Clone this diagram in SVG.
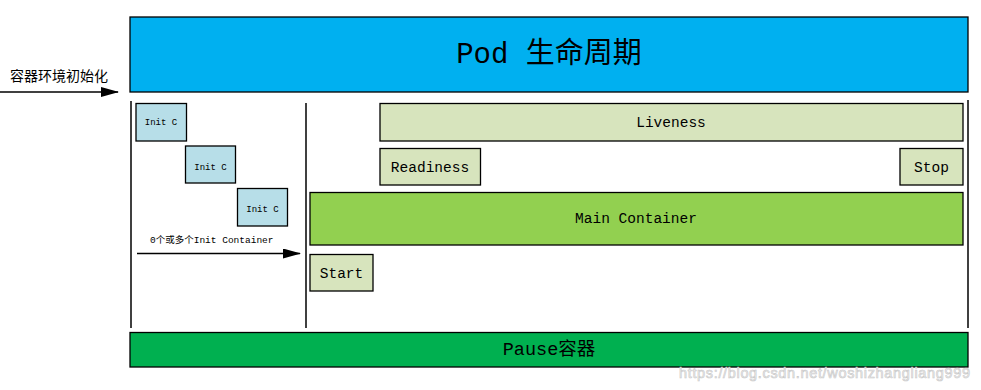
<svg xmlns="http://www.w3.org/2000/svg" width="981" height="390" viewBox="0 0 981 390">
<style>
.box{stroke:#000;stroke-width:1.3}
.init{fill:#B7DEE8}
.lg{fill:#D7E4BD}
.mono{font-family:"Liberation Mono","Noto Sans CJK SC",monospace;fill:#000}
.cjk{font-family:"Noto Sans CJK SC","Noto Sans",sans-serif;fill:#000}
.line{stroke:#000;stroke-width:1.5;fill:none}
</style>
<defs>
<marker id="ah" markerWidth="18" markerHeight="10" refX="17" refY="5" orient="auto" markerUnits="userSpaceOnUse">
<path d="M0,0 L18,5 L0,10 Z" fill="#000"/>
</marker>
</defs>
<rect width="981" height="390" fill="#fff"/>

<g id="pod">
<rect class="box" x="130" y="17" width="838" height="75" fill="#00B0F0"/>
<text class="mono" x="549" y="63" font-size="29" text-anchor="middle">Pod 生命周期</text>
</g>

<g id="connectors">
<line class="line" x1="0" y1="92" x2="118" y2="92" marker-end="url(#ah)"/>
<line class="line" x1="137" y1="253.5" x2="300" y2="253.5" marker-end="url(#ah)"/>
<line class="line" x1="131" y1="101" x2="131" y2="328"/>
<line class="line" x1="306" y1="103" x2="306" y2="328"/>
<line class="line" x1="968" y1="100" x2="968" y2="328"/>
</g>

<g id="init-label">
<text class="cjk" x="10" y="81" font-size="14">容器环境初始化</text>
</g>

<g id="init1">
<rect class="box init" x="136" y="103.5" width="50.5" height="37.5"/>
<text class="mono" x="161" y="125" font-size="9" text-anchor="middle">Init C</text>
</g>
<g id="init2">
<rect class="box init" x="185.5" y="146" width="50" height="37"/>
<text class="mono" x="210.5" y="170" font-size="9" text-anchor="middle">Init C</text>
</g>
<g id="init3">
<rect class="box init" x="237.5" y="188.5" width="50" height="37.5"/>
<text class="mono" x="262.5" y="212" font-size="9" text-anchor="middle">Init C</text>
</g>
<g id="init-count">
<text class="mono" x="150" y="243" font-size="9.5">0个或多个Init Container</text>
</g>

<g id="liveness">
<rect class="box lg" x="380" y="103.5" width="583" height="37.5"/>
<text class="mono" x="671" y="127" font-size="14.5" text-anchor="middle">Liveness</text>
</g>
<g id="readiness">
<rect class="box lg" x="380" y="148.5" width="100.5" height="36.5"/>
<text class="mono" x="430" y="172" font-size="14.5" text-anchor="middle">Readiness</text>
</g>
<g id="stop">
<rect class="box lg" x="900" y="148.5" width="63" height="36.5"/>
<text class="mono" x="931.5" y="172" font-size="14.5" text-anchor="middle">Stop</text>
</g>
<g id="main">
<rect class="box" x="310" y="192.5" width="653" height="52.5" fill="#92D050"/>
<text class="mono" x="636" y="223" font-size="14.5" text-anchor="middle">Main Container</text>
</g>
<g id="start">
<rect class="box lg" x="310" y="254.5" width="63" height="36.5"/>
<text class="mono" x="341.5" y="278" font-size="14.5" text-anchor="middle">Start</text>
</g>

<g id="pause">
<rect class="box" x="130" y="332.5" width="838" height="34.5" fill="#00B050"/>
<text class="mono" x="549" y="355" font-size="18.5" text-anchor="middle">Pause容器</text>
</g>

<g id="watermark">
<text x="679" y="378" font-size="14.5" font-family="Liberation Sans, Arial, sans-serif" fill="#f2f2f2" stroke="#c8c8c8" stroke-width="0.6" textLength="291">https://blog.csdn.net/woshizhangliang999</text>
</g>
</svg>
